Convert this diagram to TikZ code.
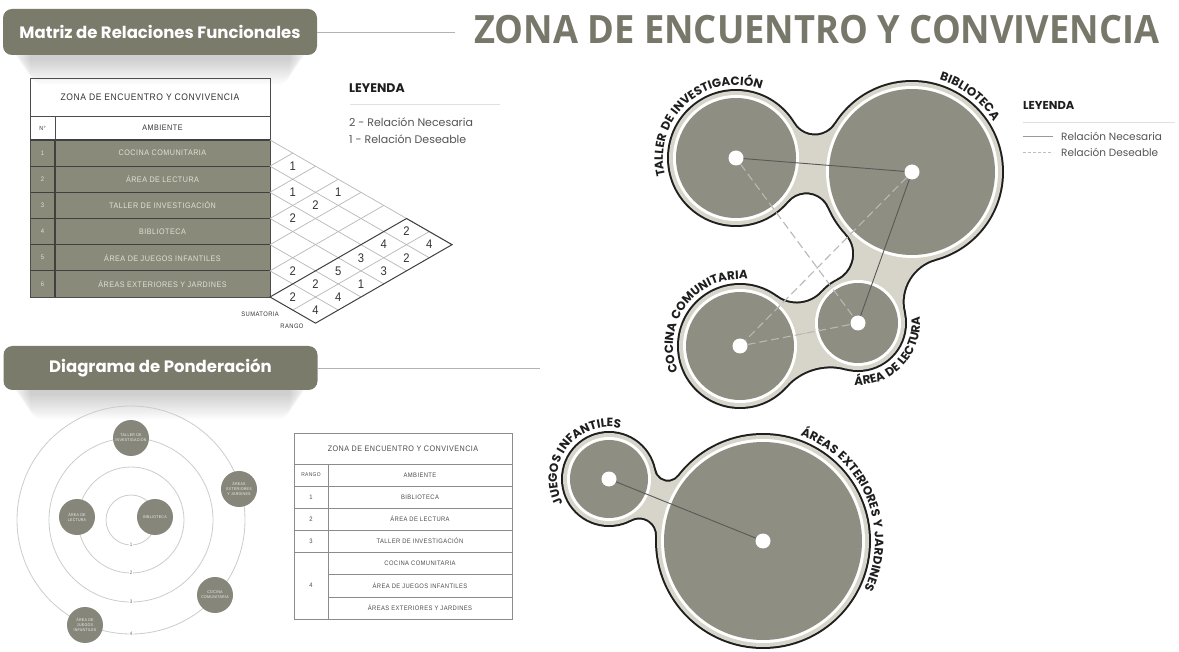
\documentclass[tikz,border=0pt]{standalone}
\usepackage{fontspec}
\usepackage{graphicx}
\setmainfont{Open Sans}
\newfontfamily\popf{Poppins}
\newfontfamily\poplbl{Poppins}[LetterSpace=7]
\newfontfamily\cadf{Liberation Sans}[FakeStretch=0.9, LetterSpace=6]
\usetikzlibrary{decorations.text}
\definecolor{hdrc}{HTML}{7B7B6C}
\definecolor{titlec}{HTML}{77776A}
\definecolor{rowc}{HTML}{8A8A7A}
\definecolor{diskc}{HTML}{8E8E82}
\definecolor{beigec}{HTML}{D7D4C9}
\definecolor{pondc}{HTML}{86867A}
\definecolor{inkc}{HTML}{333333}
\definecolor{legc}{HTML}{555555}
\definecolor{lblc}{HTML}{1E1E1E}
\definecolor{rowtc}{HTML}{E2E0D6}
\newcommand{\lblfont}{\poplbl\bfseries\fontsize{12}{14}\selectfont\color{lblc}}
\newcommand{\neckside}[9]{%
  \pgfmathsetmacro{\nkdx}{((#4)-(#1))/100}%
  \pgfmathsetmacro{\nkdy}{((#5)-(#2))/100}%
  \pgfmathsetmacro{\nkd}{veclen(\nkdx,\nkdy)}%
  \pgfmathsetmacro{\nka}{((#3)+(#7))/100}%
  \pgfmathsetmacro{\nkb}{((#6)+(#7))/100}%
  \pgfmathsetmacro{\nkal}{acos((\nka*\nka+\nkd*\nkd-\nkb*\nkb)/(2*\nka*\nkd))}%
  \pgfmathsetmacro{\nkth}{atan2(\nkdy,\nkdx)}%
  \pgfmathsetmacro{\nkang}{\nkth+(#8)*\nkal}%
  \pgfmathsetmacro{\nkFx}{(#1)+((#3)+(#7))*cos(\nkang)}%
  \pgfmathsetmacro{\nkFy}{(#2)+((#3)+(#7))*sin(\nkang)}%
  \pgfmathsetmacro{\nkpA}{\nkang+180}%
  \pgfmathsetmacro{\nkpB}{atan2((#5)-\nkFy,(#4)-\nkFx)}%
  \pgfmathsetmacro{\nkdel}{mod(\nkpB-\nkpA+900,360)-180}%
  \fill[#9] (#1,#2) -- ({\nkFx+(#7)*cos(\nkpA)},{\nkFy+(#7)*sin(\nkpA)}) arc[start angle=\nkpA, delta angle=\nkdel, radius=#7] -- (#4,#5) -- cycle;%
}
\begin{document}
\begin{tikzpicture}[x=1pt,y=-1pt,
  hbox/.style={fill=hdrc, rounded corners=9pt, minimum width=314pt, minimum height=46pt, inner sep=0pt, text=white, font=\popf\bfseries\fontsize{16.5}{19}\selectfont},
  hline/.style={draw=black!30, line width=0.8pt},
  t1line/.style={draw=black!70, line width=0.8pt},
  rowsep/.style={draw=black!75, line width=1.1pt},
  t1txt/.style={inner sep=0pt, text=inkc, font=\cadf\fontsize{8}{9}\selectfont},
  rowtxt/.style={inner sep=0pt, text=rowtc, font=\cadf\fontsize{8}{9}\selectfont},
  gridl/.style={draw=black!28, line width=0.7pt},
  gridb/.style={draw=black!75, line width=1pt},
  numc/.style={inner sep=0pt, text=inkc, font=\cadf\fontsize{12.5}{13}\selectfont},
  legtitle/.style={anchor=west, inner sep=0pt, text=lblc, font=\popf\bfseries\fontsize{12.5}{14}\selectfont},
  legtxt/.style={anchor=west, inner sep=0pt, text=legc, font=\popf\fontsize{11}{13}\selectfont},
  ringc/.style={draw=black!20, line width=0.8pt},
  ringlbl/.style={fill=white, inner sep=1pt, text=black!60, font=\cadf\fontsize{5}{6}\selectfont},
  pond/.style={circle, fill=pondc, minimum size=36pt, inner sep=0pt, align=center, text=white!88!gray, font=\cadf\fontsize{4}{4.8}\selectfont},
  t2line/.style={draw=black!45, line width=0.7pt},
  t2txt/.style={inner sep=0pt, text=black!70, font=\cadf\fontsize{6.5}{8}\selectfont},
  dotn/.style={circle, fill=white, minimum size=15pt, inner sep=0pt},
  conS/.style={draw=black!65, line width=0.9pt},
  conD/.style={draw=black!28, line width=1.1pt, dash pattern=on 8pt off 4pt},
  legS/.style={draw=black!40, line width=0.9pt},
  legD/.style={draw=black!25, line width=0.9pt, dash pattern=on 3pt off 2pt}
]
\useasboundingbox (0,0) rectangle (1179,652);
\fill[white] (0,0) rectangle (1179,652);

% ---------- header shadows ----------
\foreach \k in {1,...,12}{
  \fill[black,opacity=0.016,rounded corners=12pt] ({12+\k*1.5},{28+\k}) rectangle ({308-\k*1.5},{58+\k*2.2});
  \fill[black,opacity=0.016,rounded corners=12pt] ({12+\k*1.5},{364+\k}) rectangle ({308-\k*1.5},{393+\k*2.2});
}

% ---------- headers ----------
\node[hbox] (h1) at (160,32) {Matriz de Relaciones Funcionales};
\coordinate (h1e) at (455,32);
\draw[hline] (h1.east) -- (h1e);
\node[anchor=west, inner sep=0pt, text=titlec, font=\bfseries\fontsize{39}{40}\selectfont] (ttl) at (474,30) {\scalebox{0.93}[1]{ZONA DE ENCUENTRO Y CONVIVENCIA}};

\node[hbox, minimum height=44pt] (h2) at (160.5,368) {Diagrama de Ponderación};
\coordinate (h2e) at (540,368);
\draw[hline] (h2.east) -- (h2e);

% ---------- table 1 ----------
\fill[rowc] (30,140) rectangle (270,297);
\foreach \k in {1,...,5} \draw[rowsep] (30,{140+\k*26.1667}) -- (270,{140+\k*26.1667});
\draw[t1line] (30,78) rectangle (270,297);
\draw[t1line] (30,116) -- (270,116);
\draw[rowsep] (30,140) -- (270,140);
\draw[t1line] (55,116) -- (55,140);
\draw[rowsep] (55,140) -- (55,297);
\node[t1txt, font=\cadf\fontsize{9.5}{10}\selectfont] (t1ttl) at (150,97) {ZONA DE ENCUENTRO Y CONVIVENCIA};
\node[t1txt, font=\cadf\fontsize{6}{7}\selectfont] (t1no) at (42.5,128) {N°};
\node[t1txt] (t1amb) at (162.5,128) {AMBIENTE};
\foreach \n/\t [count=\k] in {1/COCINA COMUNITARIA, 2/ÁREA DE LECTURA, 3/TALLER DE INVESTIGACIÓN, 4/BIBLIOTECA, 5/ÁREA DE JUEGOS INFANTILES, 6/ÁREAS EXTERIORES Y JARDINES}{
  \node[rowtxt, font=\cadf\fontsize{6.5}{7}\selectfont] (t1n\k) at (42.5,{140+(\k-0.5)*26.1667}) {\n};
  \node[rowtxt] (t1a\k) at (162.5,{140+(\k-0.5)*26.1667}) {\t};
}

% ---------- relation matrix ----------
\foreach \i in {0,...,6}{
  \foreach \j in {\i,...,8}{
    \coordinate (m\i-\j) at ({270+(\j-\i)*22.754},{140+(\i+\j)*13.0833});
  }
}
\foreach \i in {0,...,5} \draw[gridl] (m\i-\i) -- (m\i-8);
\foreach \j in {1,...,5} \draw[gridl] (m\j-\j) -- (m0-\j);
\draw[gridl] (m6-7) -- (m0-7);
\draw[gridb] (m6-6) -- (m0-6) -- (m0-8) -- (m6-8) -- cycle;
\foreach \i/\j/\v in {1/2/1, 2/3/1, 1/4/1, 2/4/2, 3/4/2, 5/6/2}
  \node[numc] (c\i-\j) at ({270+(\j-\i)*22.754},{140+(\i+\j-1)*13.0833}) {\v};
\foreach \i/\v in {1/2, 2/4, 3/3, 4/5, 5/2, 6/2}
  \node[numc] (s\i) at ({270+(7-\i)*22.754},{140+(\i+6)*13.0833}) {\v};
\foreach \i/\v in {1/4, 2/2, 3/3, 4/1, 5/4, 6/4}
  \node[numc] (r\i) at ({270+(8-\i)*22.754},{140+(\i+7)*13.0833}) {\v};
\node[t1txt, anchor=east, font=\cadf\fontsize{6.5}{7}\selectfont] (lsum) at (279,314) {SUMATORIA};
\node[t1txt, font=\cadf\fontsize{6.5}{7}\selectfont] (lran) at (292,326) {RANGO};

% ---------- legend 1 ----------
\node[legtitle] (lg1t) at (349,88) {LEYENDA};
\coordinate (lg1a) at (350,104);
\coordinate (lg1b) at (500,104);
\draw[draw=black!12, line width=0.8pt] (lg1a) -- (lg1b);
\node[legtxt] (lg1n) at (349,122) {2 - Relación Necesaria};
\node[legtxt] (lg1d) at (349,139) {1 - Relación Deseable};

% ---------- ponderation diagram ----------
\coordinate (pO) at (131,520);
\foreach \r in {25,53,82,114} \draw[ringc] (pO) circle[radius=\r];
\foreach \r [count=\k] in {25,53,82,114} \node[ringlbl] (pr\k) at (131,{520+\r}) {\k};
\node[pond] (pT) at (131,438) {TALLER DE\\INVESTIGACIÓN};
\node[pond] (pE) at (239,489) {ÁREAS\\EXTERIORES\\Y JARDINES};
\node[pond] (pL) at (77,517) {ÁREA DE\\LECTURA};
\node[pond] (pB) at (155,517) {BIBLIOTECA};
\node[pond] (pC) at (215,595) {COCINA\\COMUNITARIA};
\node[pond] (pJ) at (85,625) {ÁREA DE\\JUEGOS\\INFANTILES};

% ---------- table 2 ----------
\draw[t2line] (294,433) rectangle (512,619);
\draw[t2line] (294,464) -- (512,464);
\draw[t2line] (328,464) -- (328,619);
\foreach \y in {486,508,530,552} \draw[t2line] (294,\y) -- (512,\y);
\foreach \y in {574.5,597} \draw[t2line] (328,\y) -- (512,\y);
\node[t2txt, font=\cadf\fontsize{8}{9}\selectfont] (t2ttl) at (403,449) {ZONA DE ENCUENTRO Y CONVIVENCIA};
\node[t2txt, font=\cadf\fontsize{5.5}{6}\selectfont] (t2ran) at (311,475) {RANGO};
\node[t2txt] (t2amb) at (420,475) {AMBIENTE};
\node[t2txt] (t2r1) at (311,497) {1};
\node[t2txt] (t2r2) at (311,519) {2};
\node[t2txt] (t2r3) at (311,541) {3};
\node[t2txt] (t2r4) at (311,585.75) {4};
\node[t2txt] (t2a1) at (420,497) {BIBLIOTECA};
\node[t2txt] (t2a2) at (420,519) {ÁREA DE LECTURA};
\node[t2txt] (t2a3) at (420,541) {TALLER DE INVESTIGACIÓN};
\node[t2txt] (t2a4) at (420,563.25) {COCINA COMUNITARIA};
\node[t2txt] (t2a5) at (420,585.75) {ÁREA DE JUEGOS INFANTILES};
\node[t2txt] (t2a6) at (420,608) {ÁREAS EXTERIORES Y JARDINES};

% ---------- bubble diagram ----------
% outline layer
\foreach \x/\y/\g in {736/158/60, 912/172/83, 740/346/54, 858/323/40, 609/479/39, 763/541/99}
  \fill[black!88] (\x,\y) circle[radius={\g+9}];
\neckside{736}{158}{69}{912}{172}{92}{23}{1}{black!88}
\neckside{736}{158}{69}{912}{172}{92}{23}{-1}{black!88}
\neckside{912}{172}{92}{858}{323}{49}{28}{1}{black!88}
\neckside{912}{172}{92}{858}{323}{49}{43}{-1}{black!88}
\neckside{740}{346}{63}{858}{323}{49}{58}{1}{black!88}
\neckside{740}{346}{63}{858}{323}{49}{33}{-1}{black!88}
\neckside{609}{479}{48}{763}{541}{108}{16}{1}{black!88}
\neckside{609}{479}{48}{763}{541}{108}{12}{-1}{black!88}
% beige layer
\foreach \x/\y/\g in {736/158/60, 912/172/83, 740/346/54, 858/323/40, 609/479/39, 763/541/99}
  \fill[beigec] (\x,\y) circle[radius={\g+7}];
\neckside{736}{158}{67}{912}{172}{90}{25}{1}{beigec}
\neckside{736}{158}{67}{912}{172}{90}{25}{-1}{beigec}
\neckside{912}{172}{90}{858}{323}{47}{30}{1}{beigec}
\neckside{912}{172}{90}{858}{323}{47}{45}{-1}{beigec}
\neckside{740}{346}{61}{858}{323}{47}{60}{1}{beigec}
\neckside{740}{346}{61}{858}{323}{47}{35}{-1}{beigec}
\neckside{609}{479}{46}{763}{541}{106}{18}{1}{beigec}
\neckside{609}{479}{46}{763}{541}{106}{14}{-1}{beigec}
% white rings and disks
\foreach \x/\y/\g in {736/158/60, 912/172/83, 740/346/54, 858/323/40, 609/479/39, 763/541/99}{
  \fill[white] (\x,\y) circle[radius={\g+3}];
  \fill[diskc] (\x,\y) circle[radius=\g];
}
% centre dots
\node[dotn] (dT) at (736,158) {};
\node[dotn] (dB) at (912,172) {};
\node[dotn] (dC) at (740,346) {};
\node[dotn] (dL) at (858,323) {};
\node[dotn] (dJ) at (609,479) {};
\node[dotn] (dE) at (763,541) {};
% connectors
\draw[conS] (dT) -- (dB);
\draw[conS] (dB) -- (dL);
\draw[conD] (dT) -- (dL);
\draw[conD] (dB) -- (dC);
\draw[conD] (dC) -- (dL);
\draw[conS] (dJ) -- (dE);
% curved labels
\path[decorate, decoration={text along path, text align=center, text={|\lblfont|TALLER DE INVESTIGACIÓN}}]
  (736,158) ++(-222:73) arc[start angle=-222, end angle=-42, radius=73];
\path[decorate, decoration={text along path, text align=center, text={|\lblfont|BIBLIOTECA}}]
  (912,172) ++(-112.6:96) arc[start angle=-112.6, end angle=7.4, radius=96];
\path[decorate, decoration={text along path, text align=center, text={|\lblfont|COCINA COMUNITARIA}}]
  (740,346) ++(-233:67) arc[start angle=-233, end angle=-53, radius=67];
\path[decorate, decoration={text along path, text align=center, text={|\lblfont|ÁREA DE LECTURA}}]
  (858,323) ++(133.6:62) arc[start angle=133.6, end angle=-46.4, radius=62];
\path[decorate, decoration={text along path, text align=center, text={|\lblfont|JUEGOS INFANTILES}}]
  (609,479) ++(-232.5:52) arc[start angle=-232.5, end angle=-52.5, radius=52];
\path[decorate, decoration={text along path, text align=center, text={|\lblfont|ÁREAS EXTERIORES Y JARDINES}}]
  (763,541) ++(-112.6:112) arc[start angle=-112.6, end angle=67.4, radius=112];

% ---------- legend 2 ----------
\node[legtitle, font=\popf\bfseries\fontsize{11.5}{13}\selectfont] (lg2t) at (1023,105) {LEYENDA};
\coordinate (lg2a) at (1023,122);
\coordinate (lg2b) at (1175,122);
\draw[draw=black!12, line width=0.8pt] (lg2a) -- (lg2b);
\coordinate (lgs1) at (1023,136);
\coordinate (lgs2) at (1053,136);
\draw[legS] (lgs1) -- (lgs2);
\coordinate (lgd1) at (1023,152);
\coordinate (lgd2) at (1053,152);
\draw[legD] (lgd1) -- (lgd2);
\node[legtxt, font=\popf\fontsize{10.5}{12}\selectfont] (lg2n) at (1061,136) {Relación Necesaria};
\node[legtxt, font=\popf\fontsize{10.5}{12}\selectfont] (lg2d) at (1061,152) {Relación Deseable};
\end{tikzpicture}
\end{document}
